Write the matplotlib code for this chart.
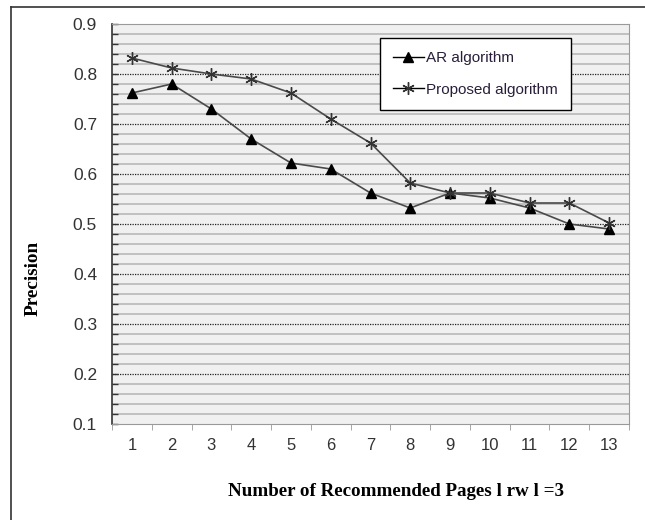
import numpy as np
import matplotlib.pyplot as plt
from matplotlib.lines import Line2D

# data
pages = [1, 2, 3, 4, 5, 6, 7, 8, 9, 10, 11, 12, 13]
ar_precision = [0.762, 0.78, 0.73, 0.67, 0.622, 0.61, 0.562, 0.532, 0.562, 0.552, 0.532, 0.50, 0.49]
proposed_precision = [0.832, 0.812, 0.80, 0.79, 0.762, 0.71, 0.662, 0.582, 0.562, 0.562, 0.542, 0.542, 0.502]
y_ticks = [0.1, 0.2, 0.3, 0.4, 0.5, 0.6, 0.7, 0.8, 0.9]

fig = plt.figure(figsize=(6.45, 5.2), dpi=100)
W, H = 645, 520
ax = fig.add_axes([112 / W, 1 - 424 / H, (629 - 112) / W, (424 - 24) / H])
ax.set_facecolor('#f0f0f0')

# minor grid (grey, solid) and major grid (black, dotted)
minor = np.arange(0.12, 0.9, 0.02)
for v in minor:
    if abs(round(v * 10) - v * 10) > 1e-6:
        ax.axhline(v, color='#bdbdbd', lw=1.3, zorder=1)
for v in y_ticks[1:-1]:
    ax.axhline(v, color='#222222', lw=0.9, ls=(0, (1, 1)), zorder=1)

line_col = '#4a4a4a'
ax.plot(pages, ar_precision, color=line_col, lw=1.2, marker='^', ms=7,
        mfc='black', mec='black', zorder=3, label='AR algorithm')
ax.plot(pages, proposed_precision, color=line_col, lw=1.2, marker=(6, 2, 0), ms=9,
        mec='#333333', mew=1.0, zorder=3, label='Proposed algorithm')

ax.set_xlim(0.5, 13.5)
ax.set_ylim(0.1, 0.9)
ax.set_yticks(y_ticks)
ax.set_yticklabels([f'{v:.1f}' for v in y_ticks])
ax.set_yticks(minor, minor=True)
ax.set_xticks(pages)
ax.set_xticklabels([str(p) for p in pages])
ax.set_xticks(np.arange(0.5, 14, 1), minor=True)

ax.tick_params(axis='y', which='both', direction='in', length=4, width=1, color='#333333',
               labelsize=12.5, labelcolor='#333333', pad=10.8)
ax.tick_params(axis='x', which='major', length=0, labelsize=12, labelcolor='#333333', pad=10)
ax.tick_params(axis='x', which='minor', direction='out', length=4, color='#999999')
for f in ax.get_xticklabels() + ax.get_yticklabels():
    f.set_fontfamily('Liberation Sans')

for s in ['top', 'right', 'bottom']:
    ax.spines[s].set_color('#9a9a9a')
ax.spines['left'].set_color('#333333')
ax.spines['left'].set_linewidth(1.2)

handles = [
    Line2D([], [], color='black', lw=1, marker='^', ms=7, mfc='black', mec='black'),
    Line2D([], [], color='black', lw=1, marker=(6, 2, 0), ms=9, mec='#333333'),
]
leg = ax.legend(handles, ['AR algorithm', 'Proposed algorithm'], loc='upper left',
                bbox_to_anchor=((380 - 112) / 517, 1 - (38 - 24) / 400),
                frameon=True, fancybox=False, edgecolor='black', framealpha=1,
                prop={'family': 'Liberation Sans', 'size': 11},
                handlelength=2.0, handletextpad=0.15, labelspacing=1.15,
                borderpad=0.85, borderaxespad=0)
leg.get_frame().set_linewidth(1.0)
for t in leg.get_texts():
    t.set_color('#2a1f3a')

fig.text(396 / W, 1 - 492 / H, 'Number of Recommended Pages l rw l =3', ha='center', va='center',
         fontsize=13.7, fontweight='bold', family='Liberation Serif')
fig.text(33 / W, 1 - 278 / H, 'Precision', ha='center', va='center', rotation=90,
         fontsize=13.9, fontweight='bold', family='Liberation Serif')

# outer frame: only left and top lines
fig.add_artist(Line2D([11 / W, 11 / W], [0, 1 - 7 / H], color='#333333', lw=1.2))
fig.add_artist(Line2D([11 / W, 1], [1 - 7 / H, 1 - 7 / H], color='#333333', lw=1.2))

fig.savefig('out.png', dpi=100)
